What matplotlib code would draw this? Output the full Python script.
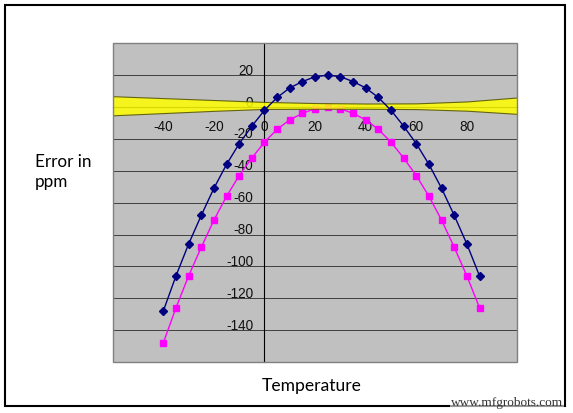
import matplotlib
matplotlib.use("Agg")
import matplotlib.pyplot as plt
from matplotlib.patches import Rectangle
from matplotlib.transforms import ScaledTranslation

# temperature (deg C) for both curves
temps = [-40, -35, -30, -25, -20, -15, -10, -5, 0, 5, 10, 15, 20,
         25, 30, 35, 40, 45, 50, 55, 60, 65, 70, 75, 80, 85]
# navy diamonds
err_high = [-128, -106, -86, -68, -51, -36, -23, -12, -2, 6, 12, 16, 19,
            20, 19, 16, 12, 6, -2, -12, -23, -36, -51, -68, -86, -106]
# magenta squares
err_low = [-148, -126, -106, -88, -71, -56, -43, -32, -22, -14, -8, -4, -1,
           0, -1, -4, -8, -14, -22, -32, -43, -56, -71, -88, -106, -126]

# yellow tolerance band
band_t = [-60, -40, -20, 0, 20, 40, 60, 80, 100]
band_hi = [6.8, 5.6, 4.4, 3.2, 2.5, 2.2, 2.3, 3.5, 6.0]
band_lo = [-5.2, -3.8, -2.4, -1.2, -1.1, -1.1, -1.3, -2.3, -4.3]

xticks = [-40, -20, 0, 20, 40, 60, 80]
yticks = [-160, -140, -120, -100, -80, -60, -40, -20, 0, 20, 40]
ylabels = ['', '-140', '-120', '-100', '-80', '-60', '-40', '-20', '0', '20', '']

fig = plt.figure(figsize=(5.73, 4.13), dpi=100)
ax = fig.add_axes([0.1967, 0.1235, 0.7064, 0.7717])
ax.set_facecolor('#C0C0C0')

ax.plot(temps, err_low, color='#FF00FF', marker='s', markersize=4.2,
        linewidth=1.0, zorder=3)
ax.fill_between(band_t, band_lo, band_hi, facecolor='#FFFF00',
                edgecolor='#505000', linewidth=0.8, alpha=0.85, zorder=4)
ax.plot(temps, err_high, color='#000080', marker='D', markersize=3.6,
        linewidth=1.0, zorder=5)

ax.set_xlim(-60, 100)
ax.set_ylim(-160, 40)

for s in ['top', 'right']:
    ax.spines[s].set_visible(False)
ax.spines['left'].set_position(('data', 0))
ax.spines['bottom'].set_position(('data', 0))
ax.spines['left'].set_color('black')
ax.spines['bottom'].set_color('black')
ax.spines['left'].set_linewidth(0.8)
ax.spines['bottom'].set_linewidth(0.8)
ax.spines['left'].set_zorder(2.5)
ax.spines['bottom'].set_zorder(2.5)

# plot area border
ax.add_patch(Rectangle((0, 0), 1, 1, transform=ax.transAxes, fill=False,
                       edgecolor='#808080', linewidth=1.0, zorder=6,
                       clip_on=False))

ax.set_xticks(xticks)
ax.set_xticklabels([str(t) for t in xticks])
ax.set_yticks(yticks)
ax.set_yticklabels(ylabels)
ax.tick_params(axis='both', length=0, labelsize=9.8, labelcolor='#111111')
ax.tick_params(axis='x', pad=9)
ax.tick_params(axis='y', pad=8)
for lab in ax.get_xticklabels() + ax.get_yticklabels():
    lab.set_fontfamily('Liberation Sans')
offset = ScaledTranslation(0, 6 / 100, fig.dpi_scale_trans)
for lab in ax.get_yticklabels():
    lab.set_transform(lab.get_transform() + offset)

ax.yaxis.grid(True, color='#404040', linewidth=0.7)
ax.xaxis.grid(False)
ax.set_axisbelow(True)

W, H = 573, 413
fig.text(35 / W, 1 - 172 / H, 'Error in\nppm', ha='left', va='center',
         fontsize=12.3, family='Lato', linespacing=1.25)
fig.text(311.7 / W, 1 - 386 / H, 'Temperature', ha='center', va='center',
         fontsize=12.6, family='Lato')

# outer frame
fig.patches.append(Rectangle((4.5 / W, 1 - 406 / H), (565 - 4.5) / W,
                             (406 - 4.5) / H, transform=fig.transFigure,
                             fill=False, edgecolor='black', linewidth=1.5))
fig.text(563 / W, 1 - 403 / H, 'www.mfgrobots.com', ha='right', va='center',
         fontsize=9.5, family='Liberation Serif', color='#333333', zorder=10,
         bbox=dict(facecolor='white', edgecolor='none', pad=0.5, alpha=0.6))

fig.savefig('out.png', dpi=100)
